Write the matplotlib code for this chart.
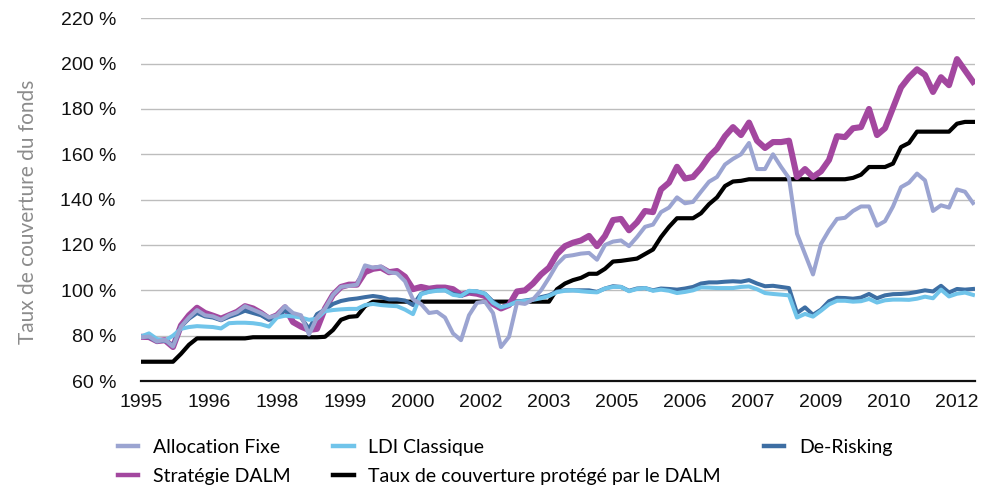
import numpy as np
import matplotlib
matplotlib.use("Agg")
import matplotlib.pyplot as plt
from matplotlib.lines import Line2D

# mois depuis janvier 1995, un point tous les 2 mois
mois = np.arange(0, 209, 2)

allocation_fixe = [
    79.3, 79.6, 77.4, 78.2, 75.2, 84, 88, 91.3, 89, 88.5,
    87, 89, 90.3, 93, 91.5, 90, 88, 89, 93, 90,
    89, 80.5, 88, 92, 98, 101.5, 102, 102.5, 111, 110,
    110.5, 108, 107.5, 104, 96, 94, 90, 90.5, 88, 81,
    78, 89, 94.5, 95, 90, 75, 79.5, 94.5, 94, 96,
    100, 105.5, 111.5, 115, 115.5, 116.2, 116.5, 113.5, 120, 121.5,
    122, 119.5, 123.5, 128, 129, 134.5, 136.5, 141, 138.4, 139,
    143.5, 147.9, 150, 155.5, 158, 160, 165, 153.5, 153.5, 160,
    154.5, 149.5, 125, 116, 107, 120.5, 126.5, 131.5, 132, 135,
    137, 137, 128.5, 130.5, 137, 145.5, 147.5, 151.5, 148.5, 135,
    137.5, 136.5, 144.5, 143.5, 138.5]

strategie_dalm = [
    79.5, 79.4, 77.6, 78, 75, 84.5, 89, 92.3, 90, 88.8,
    87.5, 89, 90.5, 93, 92, 90, 87.5, 89, 92.5, 86,
    84, 82.5, 83, 92, 98, 101.5, 102.5, 102.5, 108, 109.5,
    110, 108, 108.5, 106, 100.5, 101.5, 100.7, 101.2, 101.2, 100.5,
    98, 99, 98.5, 97.5, 94, 92, 93.5, 99.5, 100, 103,
    107, 110, 116, 119.5, 121, 122, 124, 119.5, 124, 131,
    131.5, 126.5, 130, 135, 134.5, 144.5, 147.5, 154.5, 149.3, 150,
    154, 159, 162.5, 168, 172, 168.5, 174, 166, 162.8, 165.4,
    165.4, 166, 150, 153.5, 150, 152.5, 157.5, 168, 167.6, 171.5,
    172, 180, 168.5, 171.5, 180.5, 189.5, 194, 197.5, 195, 187.5,
    194, 190.5, 202, 197, 192]

de_risking = [
    79.5, 79.4, 77.5, 78, 75.5, 84, 87.5, 90, 88.5, 88,
    86.8, 88.3, 89.5, 91, 90, 89, 87, 88.5, 91, 89.5,
    88, 83, 89.5, 91.5, 94, 95.3, 96, 96.4, 97, 97.5,
    97, 96, 96, 95.5, 93.5, 98.5, 99.5, 100, 100, 98.5,
    97.5, 99.5, 99.5, 98.5, 95, 92.5, 93.5, 95, 95.5, 96,
    97, 97.8, 99.5, 100, 100, 100, 100, 99.3, 100.8, 101.8,
    101.5, 99.8, 100.8, 101, 100, 100.8, 100.6, 100.3, 100.8, 101.5,
    103, 103.5, 103.5, 103.8, 104, 103.8, 104.5, 103, 101.8, 102,
    101.5, 101, 90, 92.5, 89.2, 91.5, 95.2, 96.7, 96.6, 96.3,
    96.8, 98.4, 96.5, 97.8, 98.3, 98.4, 98.7, 99.3, 100, 99.5,
    102, 99, 100.6, 100.3, 100.6]

ldi_classique = [
    79.6, 81, 78.5, 77.8, 80, 83, 83.8, 84.2, 84, 83.8,
    83.2, 85.5, 85.7, 85.7, 85.5, 85, 84, 88, 88.8, 88.5,
    88, 87, 87.5, 90.8, 91.3, 91.6, 91.8, 91.8, 93.5, 94,
    93.5, 93.2, 93, 91.5, 89.5, 98.3, 99.3, 99.8, 100, 98,
    97.5, 99.8, 99.5, 98.5, 94.5, 92.5, 93.5, 95, 95.3, 95.8,
    96.5, 97.5, 99.2, 99.8, 100, 99.6, 99.3, 99.1, 100.8, 101.5,
    101.5, 99.6, 100.6, 101, 99.8, 100.3, 99.8, 98.8, 99.3, 100,
    101.3, 101.2, 101, 101, 101, 101.5, 101.7, 100.5, 98.8, 98.4,
    98.1, 97.8, 88, 89.6, 88.4, 91, 93.8, 95.4, 95.4, 95,
    95.2, 96.2, 94.6, 95.6, 95.9, 95.9, 95.8, 96.3, 97.2, 96.5,
    100.3, 97.3, 98.5, 99, 98]

taux_protege = [
    68.5, 68.5, 68.5, 68.5, 68.5, 72, 76, 78.8, 78.8, 78.8,
    78.8, 78.8, 78.8, 78.8, 79.3, 79.3, 79.3, 79.3, 79.3, 79.3,
    79.3, 79.3, 79.3, 79.5, 82.5, 87, 88.3, 88.6, 93, 95,
    95, 95, 95, 95, 95, 95, 95, 95, 95, 95,
    95, 95, 95, 95, 95, 95, 95, 95, 95, 95,
    95, 95, 100.5, 103, 104.5, 105.5, 107.3, 107.3, 109.5, 112.7,
    113, 113.5, 114, 116, 118, 123.5, 128, 131.8, 131.8, 131.8,
    134, 138, 141, 146, 148, 148.3, 149, 149, 149, 149,
    149, 149, 149, 149, 149, 149, 149, 149, 149, 149.6,
    151, 154.4, 154.4, 154.4, 155.9, 163.2, 165, 170, 170, 170,
    170, 170, 173.5, 174.3, 174.3]

tick_mois = np.arange(0, 205, 17)
tick_labels = ['1995', '1996', '1998', '1999', '2000', '2002', '2003',
               '2005', '2006', '2007', '2009', '2010', '2012']
y_ticks = np.arange(60, 221, 20)

c_af = '#9BA4D1'
c_dalm = '#A3479F'
c_dr = '#3D6EA3'
c_ldi = '#70C4EA'
c_taux = '#000000'

fig = plt.figure(figsize=(9.99, 4.86), dpi=100)
ax = fig.add_axes([141 / 999, 1 - 381 / 486, 834 / 999, 362.7 / 486])

ax.plot(mois, taux_protege, color=c_taux, lw=3.0, zorder=3)
ax.plot(mois, strategie_dalm, color=c_dalm, lw=4.4, zorder=4)
ax.plot(mois, de_risking, color=c_dr, lw=2.9, zorder=5)
ax.plot(mois, ldi_classique, color=c_ldi, lw=2.9, zorder=6)
ax.plot(mois, allocation_fixe, color=c_af, lw=2.9, zorder=7)

ax.set_xlim(0, 208.5)
ax.set_ylim(60, 220)
ax.set_xticks(tick_mois)
ax.set_xticklabels(tick_labels)
ax.set_yticks(y_ticks)
ax.set_yticklabels([f'{v} %' for v in y_ticks])
ax.tick_params(axis='both', length=0, labelsize=14, labelcolor='#111111',
               labelfontfamily='Liberation Sans')
ax.tick_params(axis='x', pad=9)
ax.tick_params(axis='y', pad=18)

for v in y_ticks[1:]:
    ax.axhline(v, color='#BDBDBD', lw=1.0, zorder=1)
for s in ['top', 'right', 'left']:
    ax.spines[s].set_visible(False)
ax.spines['bottom'].set_color('#111111')
ax.spines['bottom'].set_linewidth(1.6)
ax.spines['bottom'].set_zorder(8)

fig.text(28 / 999, 1 - 212 / 486, 'Taux de couverture du fonds', rotation=90,
         ha='center', va='center', fontsize=15, color='#8C8C8C', family='Lato')

handles = [
    Line2D([], [], color=c_af, lw=3.2),
    Line2D([], [], color=c_dalm, lw=3.2),
    Line2D([], [], color=c_ldi, lw=3.2),
    Line2D([], [], color=c_taux, lw=3.2),
    Line2D([], [], color=c_dr, lw=3.2),
]
labels = ['Allocation Fixe', 'Stratégie DALM', 'LDI Classique',
          'Taux de couverture protégé par le DALM', 'De-Risking']
fig.legend(handles, labels, ncol=3, loc='upper left',
           bbox_to_anchor=(118 / 999, 1 - 439 / 486), frameon=False,
           prop={'family': 'Lato', 'size': 14}, handlelength=1.05,
           handletextpad=0.75, columnspacing=2.2, labelspacing=0.62,
           borderpad=0, borderaxespad=0)

fig.savefig('out.png', dpi=100)
